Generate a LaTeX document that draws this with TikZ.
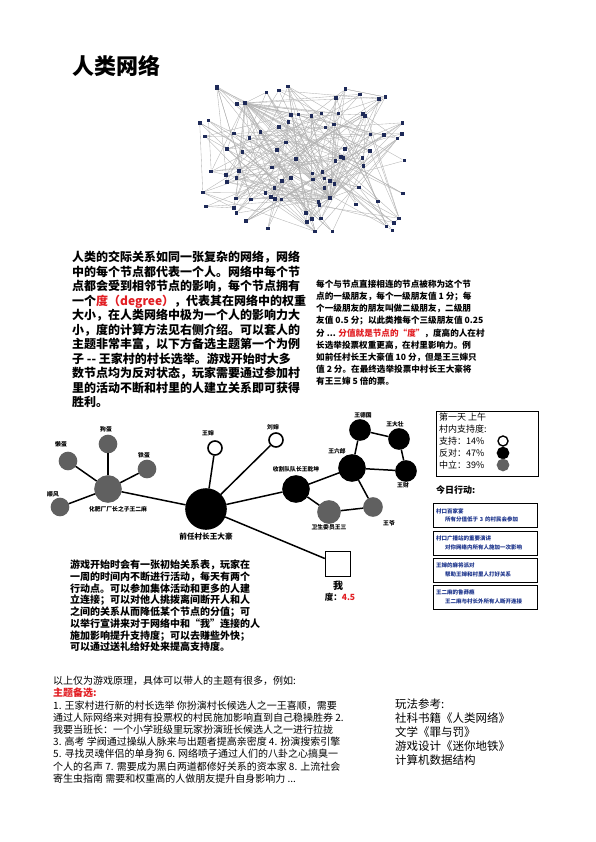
\documentclass[tikz,border=0pt]{standalone}
\usepackage{fontspec}
\setmainfont{Noto Sans CJK SC}
\usepackage{tikz}
\usetikzlibrary{positioning,backgrounds}
\definecolor{degred}{RGB}{226,30,35}
\definecolor{netblue}{RGB}{30,42,88}
\definecolor{midgray}{RGB}{96,96,96}
\definecolor{actblue}{RGB}{28,52,140}
\newcommand{\setfs}[2]{\fontsize{#1}{#2}\selectfont}

\begin{document}
\begin{tikzpicture}[
    x=1pt, y=-1pt,
    font=\normalfont,
    para/.style={
		anchor=north west,
		inner sep=0pt,
		align=left
	},
    netdot/.style={
		rectangle,
		fill=netblue,
		minimum size=3.6pt,
		inner sep=0pt
	},
    netedge/.style={draw=gray!60, line width=0.35pt},
    person/.style={
		circle,
		inner sep=0pt,
		draw=black,
		line width=1.6pt
	},
    foe/.style={person, fill=black},
    neutral/.style={person, fill=midgray, draw=midgray},
    friend/.style={person, fill=white},
    tag/.style={font=\bfseries\setfs{5.8}{7}, inner sep=0pt},
    tie/.style={line width=1.5pt},
    actbox/.style={
		draw,
		line width=0.8pt,
		minimum width=104pt,
		minimum height=24pt,
		text width=98pt,
		align=left,
		text=actblue,
		font=\bfseries\setfs{5.5}{8.5},
		inner sep=2pt
	}
  ]
  \useasboundingbox (0,0) rectangle (595,842);

  \node[para, anchor=west, font=\bfseries\setfs{22}{26}] (title) at (72,66) {人类网络};

  % network picture
  \pgfmathsetseed{27}
  \foreach \i in {1,...,90}{
    \pgfmathsetmacro{\px}{198+207*rnd}
    \pgfmathsetmacro{\py}{86+146*rnd}
    \node[netdot] (v\i) at (\px,\py) {};
  }
  \node[netdot] (hubA) at (330,198) {};
  \node[netdot] (hubB) at (245,103) {};
  \begin{scope}[on background layer]
    \fill[white] (0,0) rectangle (595,842);
    \foreach \i in {1,...,90}{
      \pgfmathrandominteger{\j}{1}{90}
      \pgfmathrandominteger{\k}{1}{90}
      \draw[netedge] (v\i) -- (v\j);
      \draw[netedge] (v\i) -- (v\k);
    }
    \foreach \i in {1,3,...,89}{\draw[netedge] (hubA) -- (v\i);}
    \foreach \i in {2,5,...,89}{\draw[netedge] (hubB) -- (v\i);}
  \end{scope}

  % text blocks
  \node[para, font=\bfseries\setfs{12}{14.5}] (intro) at (72,251) {%
   人类的交际关系如同一张复杂的网络，网络\\
   中的每个节点都代表一个人。网络中每个节\\
   点都会受到相邻节点的影响，每个节点拥有\\
   一个\textcolor{degred}{度（degree）}，代表其在网络中的权重\\
   大小，在人类网络中极为一个人的影响力大\\
   小，度的计算方法见右侧介绍。可以套人的\\
   主题非常丰富，以下方备选主题第一个为例\\
   子 {-}{-} 王家村的村长选举。游戏开始时大多\\
   数节点均为反对状态，玩家需要通过参加村\\
   里的活动不断和村里的人建立关系即可获得\\
   胜利。};

  \node[para, font=\bfseries\setfs{8.6}{12.1}] (degree) at (316,280) {%
   每个与节点直接相连的节点被称为这个节\\
   点的一级朋友，每个一级朋友值 1 分；每\\
   个一级朋友的朋友叫做二级朋友，二级朋\\
   友值 0.5 分；以此类推每个三级朋友值 0.25\\
   分 ... \textcolor{degred}{分值就是节点的“度”}，度高的人在村\\
   长选举投票权重更高，在村里影响力。例\\
   如前任村长王大豪值 10 分，但是王三婶只\\
   值 2 分。在最终选举投票中村长王大豪将\\
   有王三婶 5 倍的票。};

  % village graph
  \node[foe, minimum size=40pt] (dahao) at (206,509) {};
  \node[neutral, minimum size=26pt] (erma) at (108,489) {};
  \node[neutral, minimum size=17pt] (goudan) at (108,444) {};
  \node[neutral, minimum size=17pt] (landan) at (68,461) {};
  \node[neutral, minimum size=17pt] (jiaodan) at (147,469) {};
  \node[neutral, minimum size=17pt] (shunfeng) at (60,507) {};
  \node[friend, minimum size=14pt] (wangshen) at (215,448) {};
  \node[friend, minimum size=14pt] (liushen) at (276,440) {};
  \node[foe, minimum size=26pt] (qiankun) at (296,489) {};
  \node[foe, minimum size=26pt] (liulang) at (352,468) {};
  \node[foe, minimum size=20pt] (deguo) at (360,430) {};
  \node[foe, minimum size=20pt] (dazhuang) at (399,439) {};
  \node[foe, minimum size=20pt] (wangcai) at (406,471) {};
  \node[neutral, minimum size=22pt] (wangsan) at (329,512) {};
  \node[neutral, minimum size=18pt] (wangye) at (373,507) {};
  \node[draw, line width=1.5pt, minimum size=25pt, inner sep=0pt] (me) at (338,564) {};

  \node[tag, font=\bfseries\setfs{7.6}{9}, below=3pt of dahao] (dahaolbl) {前任村长王大豪};
  \node[tag, below=3pt of erma, xshift=10pt] (ermalbl) {化肥厂厂长之子王二麻};
  \node[tag, above=2pt of goudan, xshift=-2pt] (goudanlbl) {狗蛋};
  \node[tag, above=4pt of landan, xshift=-7pt] (landanlbl) {懒蛋};
  \node[tag, above=1pt of jiaodan, xshift=-3pt] (jiaodanlbl) {铁蛋};
  \node[tag, above=0pt of shunfeng, xshift=-7pt] (shunfenglbl) {顺风};
  \node[tag, above=4pt of wangshen, xshift=-7pt] (wangshenlbl) {王婶};
  \node[tag, above=2pt of liushen, xshift=-3pt] (liushenlbl) {刘婶};
  \node[tag, above=3pt of qiankun] (qiankunlbl) {收割队队长王乾坤};
  \node[tag, above=0pt of liulang, xshift=-15pt] (liulanglbl) {王六郎};
  \node[tag, above=1pt of deguo, xshift=3pt] (deguolbl) {王德国};
  \node[tag, above=1pt of dazhuang, xshift=-4pt] (dazhuanglbl) {王大壮};
  \node[tag, below=1pt of wangcai, xshift=-3pt] (wangcailbl) {王财};
  \node[tag, below=1pt of wangsan] (wangsanlbl) {卫生委员王三};
  \node[tag, below=3pt of wangye, xshift=16pt] (wangyelbl) {王爷};
  \node[tag, font=\bfseries\setfs{10}{12}, below=4pt of me] (melbl) {我};
  \node[tag, font=\bfseries\setfs{8.5}{10}, below=2pt of melbl, xshift=2pt] (medeg) {度：\textcolor{degred}{4.5}};

  \draw[tie] (dahao) -- (erma);
  \draw[tie] (dahao) -- (wangshen);
  \draw[tie] (dahao) -- (liushen);
  \draw[tie] (dahao) -- (qiankun);
  \draw[tie] (dahao) -- (me);
  \draw[tie] (erma) -- (goudan);
  \draw[tie] (erma) -- (landan);
  \draw[tie] (erma) -- (jiaodan);
  \draw[tie] (erma) -- (shunfeng);
  \draw[tie] (qiankun) -- (liulang);
  \draw[tie] (qiankun) -- (wangsan);
  \draw[tie] (liulang) -- (deguo);
  \draw[tie] (deguo) -- (dazhuang);
  \draw[tie] (dazhuang) -- (wangcai);
  \draw[tie] (liulang) -- (wangcai);
  \draw[tie] (liulang) -- (wangye);
  \draw[tie] (wangsan) -- (wangye);

  % support legend and actions
  \node[draw, line width=0.8pt, minimum width=102pt, minimum height=65pt, inner sep=0pt] (legend) at (487,443.5) {};
  \node[para, font=\setfs{9}{11.8}] (legendtxt) at (439,413) {%
   第一天 上午\\
   村内支持度:\\
   支持：14\%\\
   反对：47\%\\
   中立：39\%};
  \node[friend, minimum size=10pt, line width=1.4pt] (dotsup) at (503,441) {};
  \node[foe, minimum size=11pt] (dotopp) at (503,453) {};
  \node[neutral, minimum size=11pt] (dotneu) at (503,465) {};

  \node[para, anchor=west, font=\bfseries\setfs{9}{11}] (today) at (436,490) {今日行动:};
  \node[actbox] (act1) at (485,515.5) {村口百家宴\\\hspace*{9pt}所有分值低于 3 的村民会参加};
  \node[actbox] (act2) at (485,543) {村口广播站的重要演讲\\\hspace*{9pt}对你网络内所有人施加一次影响};
  \node[actbox] (act3) at (485,570) {王婶的麻将派对\\\hspace*{9pt}帮助王婶和村里人打好关系};
  \node[actbox] (act4) at (485,597) {王二麻的鲁莽瘾\\\hspace*{9pt}王二麻与村长外所有人断开连接};

  \node[para, font=\bfseries\setfs{10}{11.7}] (rules) at (70,560) {%
   游戏开始时会有一张初始关系表，玩家在\\
   一周的时间内不断进行活动，每天有两个\\
   行动点。可以参加集体活动和更多的人建\\
   立连接；可以对他人挑拨离间断开人和人\\
   之间的关系从而降低某个节点的分值；可\\
   以举行宣讲来对于网络中和“我”连接的人\\
   施加影响提升支持度；可以去赚些外快；\\
   可以通过送礼给好处来提高支持度。};

  \node[para, font=\setfs{10}{12.2}] (themes) at (53,676) {%
   以上仅为游戏原理，具体可以带人的主题有很多，例如:\\
   \textcolor{degred}{\bfseries 主题备选:}\\
   1. 王家村进行新的村长选举 你扮演村长候选人之一王喜顺，需要\\
   通过人际网络来对拥有投票权的村民施加影响直到自己稳操胜券 2.\\
   我要当班长：一个小学班级里玩家扮演班长候选人之一进行拉拢\\
   3. 高考 学阀通过操纵人脉来与出题者提高亲密度 4. 扮演搜索引擎\\
   5. 寻找灵魂伴侣的单身狗 6. 网络喷子通过人们的八卦之心搞臭一\\
   个人的名声 7. 需要成为黑白两道都修好关系的资本家 8. 上流社会\\
   寄生虫指南 需要和权重高的人做朋友提升自身影响力 ...};

  \node[para, font=\setfs{11.5}{14}] (refs) at (395,699) {%
   玩法参考:\\
   社科书籍《人类网络》\\
   文学《罪与罚》\\
   游戏设计《迷你地铁》\\
   计算机数据结构};

\end{tikzpicture}
\end{document}
